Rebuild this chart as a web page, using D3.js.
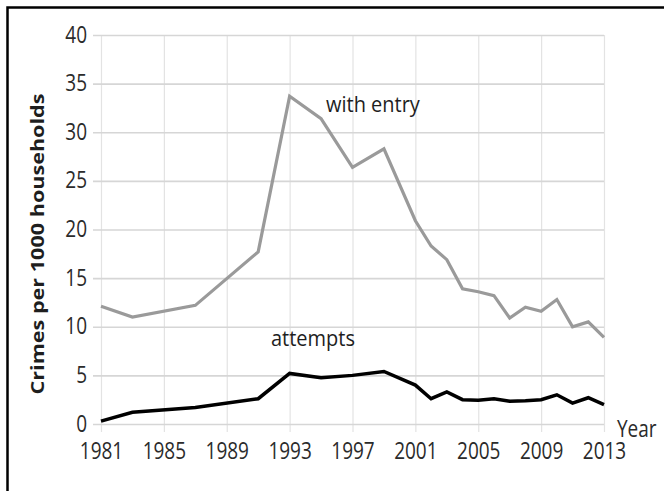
<!DOCTYPE html>
<html>
<head>
<meta charset="utf-8">
<script src="https://cdn.jsdelivr.net/npm/d3@7"></script>
<style>
  html, body { margin: 0; padding: 0; background: #fff; }
  svg { display: block; }
  text { font-family: "Open Sans", "Liberation Sans", sans-serif; }
</style>
</head>
<body>
<svg id="chart" width="664" height="491"></svg>
<script>
// ---- data ----
const years = [1981, 1983, 1987, 1991, 1993, 1995, 1997, 1999, 2001, 2002, 2003, 2004, 2005, 2006, 2007, 2008, 2009, 2010, 2011, 2012, 2013];
const withEntry = [12.1, 11.0, 12.2, 17.7, 33.7, 31.4, 26.4, 28.3, 20.9, 18.3, 16.9, 13.9, 13.6, 13.2, 10.9, 12.0, 11.6, 12.8, 10.0, 10.5, 8.9];
const attempts  = [0.3, 1.2, 1.7, 2.6, 5.2, 4.75, 5.0, 5.4, 4.0, 2.6, 3.3, 2.5, 2.45, 2.6, 2.35, 2.4, 2.5, 3.0, 2.15, 2.7, 2.0];
const xTicks = [1981, 1985, 1989, 1993, 1997, 2001, 2005, 2009, 2013];
const yTicks = [0, 5, 10, 15, 20, 25, 30, 35, 40];
const yTitle = "Crimes per 1000 households";
const xTitle = "Year";
const seriesLabels = ["with entry", "attempts"];

// ---- layout ----
const svg = d3.select("#chart");
const pLeft = 101, pRight = 604, pTop = 35, pBottom = 424;
const stretch = 1.22;
const x = d3.scaleLinear().domain([1981, 2013]).range([pLeft, pRight]);
const y = d3.scaleLinear().domain([0, 40]).range([pBottom, pTop]);

// frame (top & left visible)
svg.append("path")
  .attr("d", "M7.5,700 L7.5,7.5 L700,7.5")
  .attr("fill", "none").attr("stroke", "#000").attr("stroke-width", 2.5);

// vertical gridlines via axis
const gx = svg.append("g").attr("transform", `translate(0,${pBottom})`)
  .call(d3.axisBottom(x).tickValues(xTicks).tickFormat(d3.format("d"))
    .tickSize(-(pBottom - pTop)));
gx.select(".domain").remove();
gx.selectAll(".tick line").attr("stroke", "#e3e3e3").attr("stroke-width", 1.2)
  .attr("y1", 8);
gx.selectAll(".tick text").attr("fill", "#2b2b2b").style("font-size", "19px")
  .attr("y", 0).attr("dy", 0)
  .attr("transform", `translate(0,35) scale(1,${stretch})`);

// horizontal gridlines via axis
const gy = svg.append("g").attr("transform", `translate(${pLeft},0)`)
  .call(d3.axisLeft(y).tickValues(yTicks).tickSize(-(pRight - pLeft)));
gy.select(".domain").remove();
gy.selectAll(".tick line").attr("stroke", "#d6d6d6").attr("stroke-width", 1.6)
  .attr("x1", -8);
gy.selectAll(".tick text").attr("fill", "#2b2b2b").style("font-size", "19px")
  .attr("x", 0).attr("dy", 0)
  .attr("transform", `translate(-14,7) scale(1,${stretch})`);

// lines
const line = d3.line().x((d, i) => x(years[i])).y(d => y(d));
svg.append("path").datum(withEntry).attr("d", line)
  .attr("fill", "none").attr("stroke", "#9a9a9a").attr("stroke-width", 3.2)
  .attr("stroke-linejoin", "miter");
svg.append("path").datum(attempts).attr("d", line)
  .attr("fill", "none").attr("stroke", "#000").attr("stroke-width", 3.5)
  .attr("stroke-linejoin", "miter");

// series labels
svg.append("text").attr("transform", `translate(326,112) scale(1,1.08)`).attr("fill", "#1e1e1e")
  .style("font-size", "20px").text(seriesLabels[0]);
svg.append("text").attr("transform", `translate(271,346) scale(1,1.08)`).attr("fill", "#1e1e1e")
  .style("font-size", "20px").text(seriesLabels[1]);

// axis titles
svg.append("text").attr("transform", `translate(617,437) scale(1,${stretch})`).attr("fill", "#2b2b2b")
  .style("font-size", "19px").text(xTitle);
svg.append("text")
  .attr("transform", `translate(38,244) rotate(-90) scale(1.27,1)`)
  .attr("text-anchor", "middle").attr("dy", "0.35em").attr("fill", "#1e1e1e")
  .style("font-size", "17px").style("font-weight", "bold").text(yTitle);
</script>
</body>
</html>
